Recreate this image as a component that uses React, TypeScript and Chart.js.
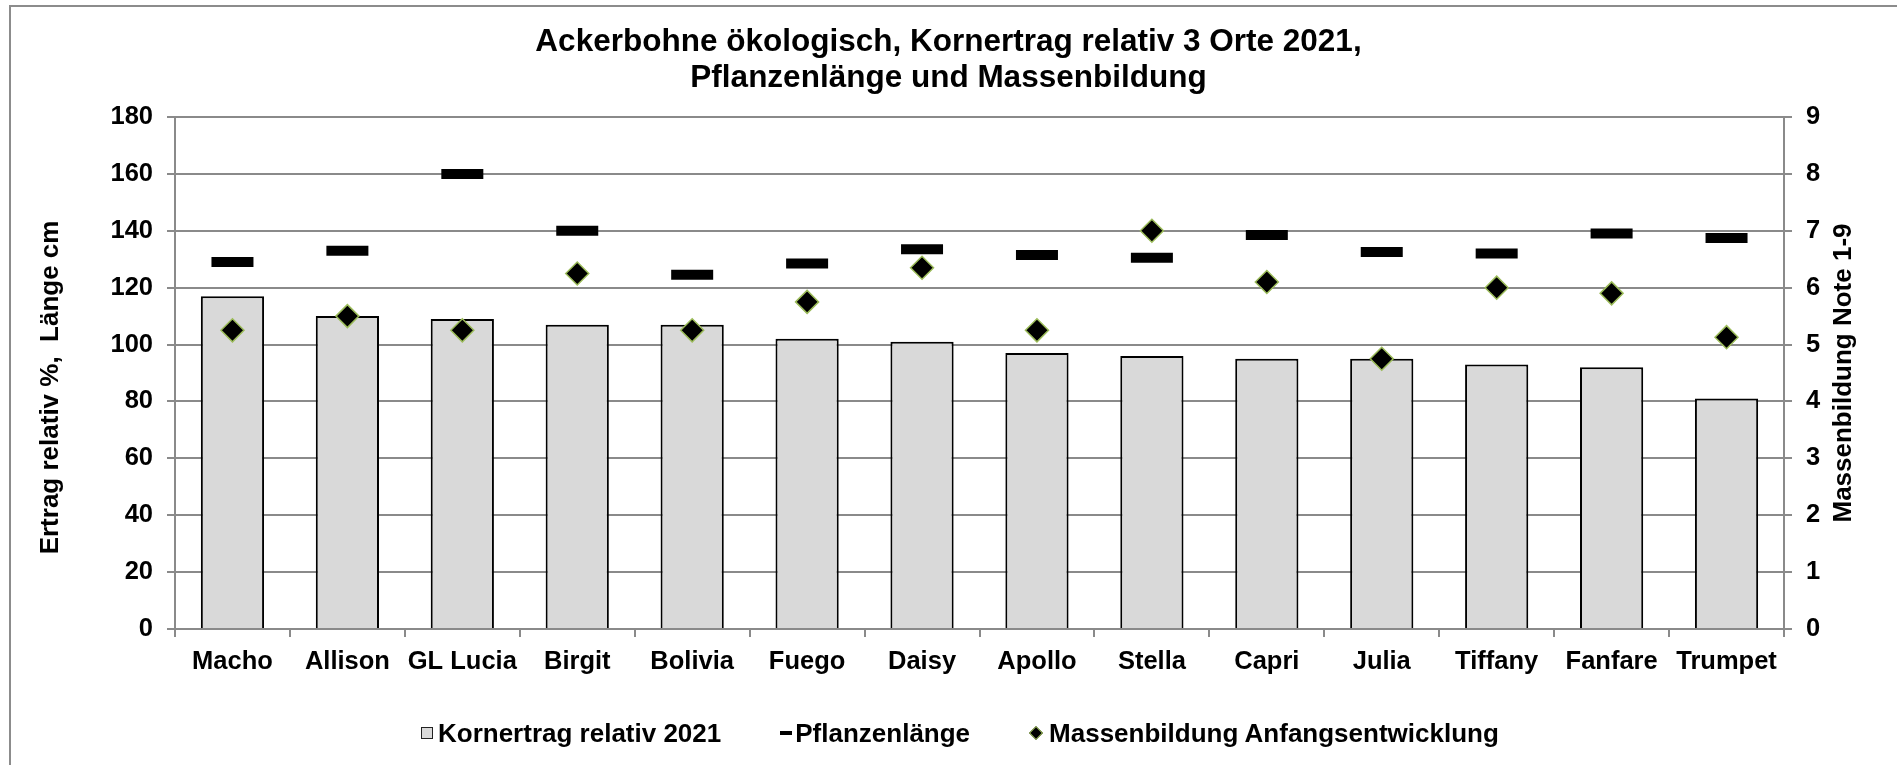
import React, { useEffect, useRef } from 'react';
import { Chart, registerables } from 'chart.js';

Chart.register(...registerables);

const categories = ['Macho', 'Allison', 'GL Lucia', 'Birgit', 'Bolivia', 'Fuego', 'Daisy', 'Apollo', 'Stella', 'Capri', 'Julia', 'Tiffany', 'Fanfare', 'Trumpet'];
const kornertrag = [117, 110, 109, 107, 107, 102, 101, 97, 96, 95, 95, 93, 92, 81];
const pflanzenlaenge = [129, 133, 160, 140, 124.5, 128.5, 133.5, 131.5, 130.5, 138.5, 132.5, 132, 139, 137.5];
const massenbildung = [5.25, 5.5, 5.25, 6.25, 5.25, 5.75, 6.35, 5.25, 7.0, 6.1, 4.75, 6.0, 5.9, 5.13];

const leftMin = 0;
const leftMax = 180;
const leftStep = 20;
const rightMin = 0;
const rightMax = 9;
const rightStep = 1;

const titleLines = ['Ackerbohne ökologisch, Kornertrag relativ 3 Orte 2021,', 'Pflanzenlänge und Massenbildung'];
const leftAxisTitle = 'Ertrag relativ %,  Länge cm';
const rightAxisTitle = 'Massenbildung Note 1-9';
const legendLabels = ['Kornertrag relativ 2021', 'Pflanzenlänge', 'Massenbildung Anfangsentwicklung'];

const FONT = "'Liberation Sans', Arial, Helvetica, sans-serif";
const GRID = '#8a8a8a';
const W = 1897;
const H = 765;

const rightTitlePlugin = {
  id: 'rightTitle',
  afterDraw(chart: any) {
    const { ctx, chartArea } = chart;
    const s = chart.scales.y1;
    ctx.save();
    ctx.translate(s.left + 60, (chartArea.top + chartArea.bottom) / 2);
    ctx.rotate(-Math.PI / 2);
    ctx.font = `bold 26px ${FONT}`;
    ctx.fillStyle = '#000';
    ctx.textAlign = 'center';
    ctx.textBaseline = 'middle';
    ctx.fillText(rightAxisTitle, 0, 0);
    ctx.restore();
  },
};

export default function App() {
  const canvasRef = useRef<HTMLCanvasElement | null>(null);

  useEffect(() => {
    const canvas = canvasRef.current;
    if (!canvas) return;
    const tickFont = { family: FONT, size: 25.5, weight: 'bold' as const, lineHeight: 1.2 };
    const chart = new Chart(canvas, {
      type: 'bar',
      data: {
        labels: categories,
        datasets: [
          {
            type: 'bar',
            label: legendLabels[0],
            data: kornertrag,
            backgroundColor: '#d9d9d9',
            borderColor: '#000',
            borderWidth: 2,
            borderSkipped: 'bottom',
            categoryPercentage: 1,
            barPercentage: 0.55,
            yAxisID: 'y',
            order: 3,
          },
          {
            type: 'line',
            label: legendLabels[1],
            data: pflanzenlaenge,
            showLine: false,
            pointStyle: 'line',
            pointRadius: 21,
            pointHoverRadius: 21,
            pointBorderWidth: 10,
            pointBorderColor: '#000',
            pointBackgroundColor: '#000',
            borderColor: '#000',
            yAxisID: 'y',
            order: 2,
          },
          {
            type: 'line',
            label: legendLabels[2],
            data: massenbildung,
            showLine: false,
            pointStyle: 'rectRot',
            pointRadius: 11.5,
            pointHoverRadius: 11.5,
            pointBorderWidth: 1.5,
            pointBorderColor: '#9bbb59',
            pointBackgroundColor: '#000',
            borderColor: '#9bbb59',
            yAxisID: 'y1',
            order: 1,
          },
        ],
      },
      options: {
        animation: false,
        responsive: false,
        devicePixelRatio: 1,
        layout: { padding: 0 },
        plugins: {
          legend: { display: false },
          tooltip: { enabled: false },
          title: {
            display: true,
            text: titleLines,
            color: '#000',
            font: { family: FONT, size: 31.5, weight: 'bold', lineHeight: 36 / 31.5 },
            padding: { top: 24, bottom: 21 },
          },
        },
        scales: {
          x: {
            type: 'category',
            offset: true,
            grid: {
              display: true,
              offset: true,
              drawOnChartArea: false,
              drawTicks: true,
              tickLength: 8,
              color: GRID,
              lineWidth: 2,
            },
            border: { display: true, color: GRID, width: 2 },
            ticks: { color: '#000', font: tickFont, padding: 10, maxRotation: 0, autoSkip: false },
            afterFit: (scale: any) => {
              scale.height = H - 629;
            },
          },
          y: {
            type: 'linear',
            position: 'left',
            min: leftMin,
            max: leftMax,
            ticks: { stepSize: leftStep, color: '#000', font: tickFont, padding: 14 },
            grid: { color: GRID, lineWidth: 2, tickLength: 8, drawTicks: true },
            border: { display: true, color: GRID, width: 2 },
            title: {
              display: true,
              text: leftAxisTitle + '    ',
              color: '#000',
              font: { family: FONT, size: 26, weight: 'bold', lineHeight: 1.2 },
              padding: { top: 35, bottom: 0 },
            },
            afterFit: (scale: any) => {
              scale.width = 175;
            },
          },
          y1: {
            type: 'linear',
            position: 'right',
            min: rightMin,
            max: rightMax,
            ticks: { stepSize: rightStep, color: '#000', font: tickFont, padding: 14 },
            grid: { drawOnChartArea: false, color: GRID, lineWidth: 2, tickLength: 8, drawTicks: true },
            border: { display: true, color: GRID, width: 2 },
            afterFit: (scale: any) => {
              scale.width = W - 1784;
            },
          },
        },
      },
      plugins: [rightTitlePlugin],
    });
    return () => {
      chart.destroy();
    };
  }, []);

  const legendText: React.CSSProperties = {
    fontFamily: FONT,
    fontWeight: 'bold',
    fontSize: 26,
    color: '#000',
    whiteSpace: 'nowrap',
  };

  return (
    <div style={{ position: 'fixed', left: 0, top: 0, width: W, height: H, overflow: 'hidden', background: '#fff' }}>
      <div
        style={{
          position: 'absolute',
          left: 9,
          top: 5,
          width: W + 20,
          height: H + 20,
          borderLeft: '2px solid #8c8c8c',
          borderTop: '2px solid #8c8c8c',
          boxSizing: 'border-box',
        }}
      />
      <canvas ref={canvasRef} width={W} height={H} style={{ position: 'absolute', left: 0, top: 0, width: W, height: H }} />
      <div
        style={{
          position: 'absolute',
          left: 421,
          top: 717.5,
          height: 30,
          lineHeight: '30px',
          display: 'flex',
          alignItems: 'center',
          gap: 59,
        }}
      >
        <div style={{ display: 'flex', alignItems: 'center' }}>
          <span style={{ display: 'inline-block', width: 12, height: 12, background: '#d9d9d9', border: '1.5px solid #222', boxSizing: 'border-box', marginRight: 5 }} />
          <span style={legendText}>{legendLabels[0]}</span>
        </div>
        <div style={{ display: 'flex', alignItems: 'center' }}>
          <span style={{ display: 'inline-block', width: 12, height: 4, background: '#000', marginRight: 3 }} />
          <span style={legendText}>{legendLabels[1]}</span>
        </div>
        <div style={{ display: 'flex', alignItems: 'center' }}>
          <span
            style={{
              display: 'inline-block',
              width: 10,
              height: 10,
              background: '#000',
              border: '1.5px solid #9bbb59',
              boxSizing: 'border-box',
              transform: 'rotate(45deg)',
              marginLeft: 2,
              marginRight: 8,
            }}
          />
          <span style={legendText}>{legendLabels[2]}</span>
        </div>
      </div>
    </div>
  );
}
